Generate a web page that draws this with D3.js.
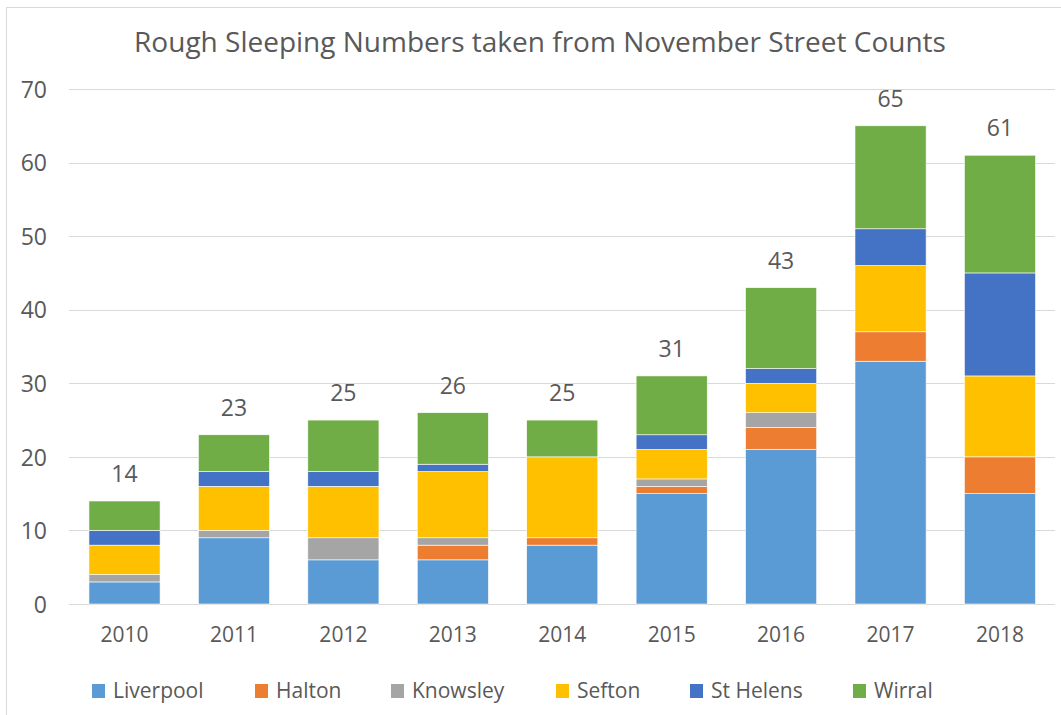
<!DOCTYPE html>
<html><head><meta charset="utf-8">
<script src="https://cdn.jsdelivr.net/npm/d3@7/dist/d3.min.js"></script>
<style>body{margin:0;background:#fff}svg{display:block}text{font-family:"Open Sans","Noto Sans",sans-serif;fill:#595959}</style>
</head><body><svg id="c" width="1061" height="715"></svg>
<script>
const years = ["2010","2011","2012","2013","2014","2015","2016","2017","2018"];
const seriesNames = ["Liverpool","Halton","Knowsley","Sefton","St Helens","Wirral"];
const colors = ["#5b9bd5","#ed7d31","#a5a5a5","#ffc000","#4472c4","#70ad47"];
const liverpool = [3,9,6,6,8,15,21,33,15];
const halton    = [0,0,0,2,1,1,3,4,5];
const knowsley  = [1,1,3,1,0,1,2,0,0];
const sefton    = [4,6,7,9,11,4,4,9,11];
const stHelens  = [2,2,2,1,0,2,2,5,14];
const wirral    = [4,5,7,7,5,8,11,14,16];
const yTicks = [0,10,20,30,40,50,60,70];
const title = "Rough Sleeping Numbers taken from November Street Counts";

const svg = d3.select("#c");
svg.append("rect").attr("x",6.5).attr("y",7.5).attr("width",1060).attr("height",720)
  .attr("fill","none").attr("stroke","#d9d9d9");

const rows = years.map((y,i)=>({year:y, Liverpool:liverpool[i], Halton:halton[i], Knowsley:knowsley[i],
  Sefton:sefton[i], "St Helens":stHelens[i], Wirral:wirral[i]}));
const stack = d3.stack().keys(seriesNames)(rows);

const x = d3.scaleBand().domain(years).range([69.8,1054.7]).paddingInner(0.35).paddingOuter(0.175);
const y = d3.scaleLinear().domain([0,70]).range([604,89]);

const grid = svg.append("g");
grid.selectAll("line").data(yTicks).join("line")
  .attr("x1",69).attr("x2",1055).attr("y1",d=>Math.round(y(d))+0.5).attr("y2",d=>Math.round(y(d))+0.5)
  .attr("stroke","#d9d9d9").attr("stroke-width",1);

const yAxis = svg.append("g").attr("transform","translate(47,0)")
  .call(d3.axisLeft(y).tickValues(yTicks).tickSize(0).tickPadding(0));
yAxis.select(".domain").remove();
yAxis.selectAll("text").style("font-size","23px").attr("fill","#595959").attr("dy","0.36em");

const xAxis = svg.append("g").attr("transform","translate(0,604)")
  .call(d3.axisBottom(x).tickSize(0).tickPadding(23));
xAxis.select(".domain").remove();
xAxis.selectAll("text").style("font-size","21px").attr("fill","#595959").attr("dy","0.71em");

svg.append("g").selectAll("g").data(stack).join("g")
  .attr("fill",(d,i)=>colors[i])
  .selectAll("rect").data(d=>d).join("rect")
  .attr("x",d=>x(d.data.year)).attr("width",x.bandwidth())
  .attr("y",d=>y(d[1])).attr("height",d=>y(d[0])-y(d[1]))
  .attr("stroke","#fff").attr("stroke-width",0.6);

const totals = years.map((yr,i)=>liverpool[i]+halton[i]+knowsley[i]+sefton[i]+stHelens[i]+wirral[i]);
svg.append("g").selectAll("text").data(years).join("text")
  .attr("x",d=>x(d)+x.bandwidth()/2).attr("y",(d,i)=>y(totals[i])-19)
  .attr("text-anchor","middle").style("font-size","23px").text((d,i)=>totals[i]);

svg.append("text").attr("x",540).attr("y",52).attr("text-anchor","middle")
  .style("font-size","28px").text(title);

const legX = [92,255,391,556,690,853];
const leg = svg.append("g").selectAll("g").data(seriesNames).join("g")
  .attr("transform",(d,i)=>`translate(${legX[i]},698)`);
leg.append("rect").attr("x",0).attr("y",-14).attr("width",13).attr("height",14).attr("fill",(d,i)=>colors[i]);
leg.append("text").attr("x",21).attr("y",0).style("font-size",d=>"21px").text(d=>d);
</script></body></html>
